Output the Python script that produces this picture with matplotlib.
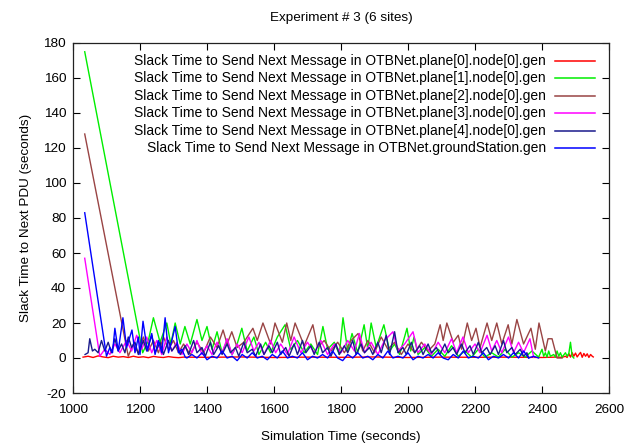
import matplotlib
matplotlib.use('Agg')
import matplotlib.pyplot as plt

plt.rcParams['font.family'] = ['Liberation Sans', 'DejaVu Sans']
plt.rcParams['axes.unicode_minus'] = False

# ---------------- data ----------------
title = "Experiment # 3 (6 sites)"
xlabel = "Simulation Time (seconds)"
ylabel = "Slack Time to Next PDU (seconds)"

labels = [
    "Slack Time to Send Next Message in OTBNet.plane[0].node[0].gen",
    "Slack Time to Send Next Message in OTBNet.plane[1].node[0].gen",
    "Slack Time to Send Next Message in OTBNet.plane[2].node[0].gen",
    "Slack Time to Send Next Message in OTBNet.plane[3].node[0].gen",
    "Slack Time to Send Next Message in OTBNet.plane[4].node[0].gen",
    "Slack Time to Send Next Message in OTBNet.groundStation.gen",
]

xticks = [1000, 1200, 1400, 1600, 1800, 2000, 2200, 2400, 2600]
yticks = [-20, 0, 20, 40, 60, 80, 100, 120, 140, 160, 180]

plane0 = [(1030, 0.5), (1045, 1.0), (1060, 0.3), (1075, 1.2), (1090, 0.6), (1105, 0.2),
          (1120, 1.0), (1135, 0.5), (1150, 0.8), (1165, 0.3), (1180, 1.0), (1195, 0.4),
          (1210, 0.7), (1225, 0.2), (1240, 0.9), (1255, 0.5), (1270, 0.3), (1285, 0.8),
          (1300, 0.4), (1315, 0.2), (1330, 0.5), (1400, 0.4), (1500, 0.6), (1600, 0.3),
          (1700, 0.5), (1800, 0.4), (1900, 0.6), (2000, 0.3), (2100, 0.5), (2200, 0.4),
          (2300, 0.5), (2400, 0.3), (2440, 0.5), (2460, 0.4), (2470, 1.0), (2475, 0.3),
          (2480, 2.5), (2485, 0.5), (2490, 3.0), (2495, 1.0), (2500, 2.8), (2505, 0.6),
          (2510, 2.0), (2515, 3.2), (2520, 0.4), (2525, 2.6), (2530, 1.0), (2535, 2.4),
          (2540, 0.3), (2545, 2.0), (2550, 1.0), (2553, 0.6)]

plane1 = [(1035, 175), (1208, 3), (1225, 10), (1240, 23), (1260, 9), (1280, 20), (1292, 8),
          (1305, 20), (1320, 8), (1334, 18), (1350, 8), (1370, 22), (1385, 10), (1400, 18),
          (1415, 5), (1430, 15), (1445, 3), (1460, 10), (1475, 2), (1490, 8), (1504, 17),
          (1520, 4), (1540, 12), (1555, 2), (1575, 9), (1590, 3), (1610, 12), (1633, 19),
          (1650, 5), (1670, 10), (1690, 3), (1710, 8), (1730, 2), (1746, 18), (1760, 5),
          (1780, 9), (1795, 2), (1806, 23), (1820, 4), (1833, 14), (1850, 3), (1869, 19),
          (1880, 5), (1890, 20), (1905, 6), (1928, 19), (1945, 4), (1960, 8), (1975, 2),
          (1997, 17), (2008, 4), (2018, 12), (2030, 2), (2050, 6), (2070, 1), (2090, 5),
          (2110, 1), (2130, 7), (2150, 1), (2170, 4), (2190, 0.5), (2210, 5), (2230, 0.5),
          (2250, 3), (2270, 0.5), (2290, 5), (2310, 0.5), (2330, 3), (2350, 0.5), (2370, 4),
          (2390, 0.5), (2400, 5), (2405, 1), (2410, 3), (2415, 0.5), (2420, 4), (2425, 1),
          (2435, 2), (2440, 0.5), (2445, 4), (2450, 1), (2455, 3), (2460, 0.5), (2470, 3),
          (2475, 1), (2480, 2.5), (2485, 9), (2490, 1), (2495, 0)]

plane2 = [(1035, 128), (1165, 1), (1180, 8), (1195, 3), (1210, 12), (1225, 4), (1240, 10),
          (1255, 3), (1270, 12), (1285, 5), (1300, 10), (1315, 3), (1330, 8), (1350, 2),
          (1370, 9), (1390, 3), (1410, 12), (1430, 6), (1448, 16), (1460, 8), (1474, 15),
          (1490, 6), (1510, 9), (1537, 17), (1550, 10), (1567, 20), (1590, 8), (1603, 20),
          (1625, 9), (1638, 20), (1650, 10), (1663, 20), (1690, 7), (1716, 19), (1730, 6),
          (1750, 10), (1770, 4), (1790, 9), (1810, 3), (1830, 10), (1851, 14), (1865, 4),
          (1880, 10), (1900, 3), (1920, 12), (1940, 5), (1960, 9), (1980, 2), (2000, 8),
          (2020, 3), (2040, 9), (2060, 4), (2080, 8), (2096, 19), (2105, 10), (2116, 20),
          (2135, 9), (2150, 13), (2160, 5), (2177, 20), (2190, 10), (2203, 17), (2215, 6),
          (2236, 20), (2250, 10), (2265, 20), (2280, 8), (2299, 19), (2310, 8), (2325, 22),
          (2345, 8), (2367, 17), (2380, 5), (2391, 20), (2410, 4), (2418, 11), (2430, 11),
          (2445, 0), (2460, 0)]

plane3 = [(1035, 57), (1080, 1), (1095, 5), (1110, 2), (1125, 8), (1140, 3), (1160, 10),
          (1175, 4), (1190, 13), (1205, 5), (1220, 12), (1235, 3), (1250, 10), (1265, 2),
          (1280, 12), (1295, 4), (1310, 9), (1325, 2), (1340, 8), (1355, 3), (1370, 10),
          (1385, 2), (1400, 7), (1415, 2), (1430, 9), (1445, 3), (1460, 11), (1475, 2),
          (1490, 8), (1505, 3), (1525, 12), (1540, 4), (1555, 9), (1570, 2), (1590, 10),
          (1605, 3), (1620, 8), (1640, 2), (1660, 12), (1680, 3), (1700, 9), (1720, 3),
          (1740, 10), (1760, 2), (1780, 8), (1800, 3), (1820, 10), (1840, 4), (1855, 14),
          (1870, 3), (1890, 9), (1910, 2), (1930, 10), (1955, 15), (1970, 4), (1990, 8),
          (2015, 15), (2030, 3), (2050, 8), (2070, 2), (2090, 9), (2110, 3), (2130, 11),
          (2145, 3), (2164, 12), (2180, 3), (2200, 8), (2215, 3), (2236, 13), (2250, 4),
          (2265, 10), (2280, 3), (2300, 12), (2315, 3), (2330, 9), (2345, 3), (2364, 11),
          (2375, 0.5)]

plane4 = [(1036, 2), (1045, 3), (1050, 11), (1058, 4), (1065, 5), (1075, 3), (1085, 10),
          (1095, 4), (1105, 9), (1115, 3), (1125, 11), (1135, 4), (1145, 8), (1155, 3),
          (1165, 12), (1175, 6), (1185, 9), (1195, 2), (1210, 10), (1220, 4), (1235, 13),
          (1245, 3), (1260, 9), (1270, 2), (1285, 10), (1295, 4), (1310, 8), (1320, 2),
          (1335, 7), (1345, 2), (1360, 10), (1370, 3), (1385, 6), (1395, 1), (1410, 9),
          (1420, 2), (1435, 7), (1445, 2), (1460, 8), (1470, 3), (1485, 6), (1495, 1),
          (1510, 9), (1520, 3), (1535, 5), (1545, 1), (1560, 8), (1570, 2), (1585, 7),
          (1595, 3), (1610, 9), (1620, 2), (1635, 6), (1645, 1), (1660, 8), (1670, 2),
          (1685, 10), (1695, 3), (1710, 7), (1720, 2), (1735, 9), (1745, 3), (1760, 6),
          (1770, 1), (1785, 8), (1795, 2), (1810, 7), (1820, 3), (1835, 10), (1845, 2),
          (1860, 8), (1870, 3), (1885, 6), (1895, 2), (1910, 9), (1920, 3), (1935, 13),
          (1945, 2), (1960, 15), (1970, 3), (1985, 6), (1995, 2), (2010, 9), (2020, 3),
          (2035, 7), (2045, 2), (2060, 8), (2070, 3), (2085, 6), (2095, 2), (2110, 8),
          (2120, 3), (2135, 6), (2145, 2), (2160, 8), (2170, 3), (2185, 7), (2195, 2),
          (2210, 9), (2220, 3), (2235, 6), (2245, 2), (2260, 7), (2270, 2), (2285, 10),
          (2295, 3), (2310, 6), (2320, 2), (2335, 5), (2345, 1), (2355, 3), (2360, 0)]

ground = [(1035, 83), (1100, 1), (1110, 6), (1118, 3), (1125, 17), (1135, 4), (1149, 23),
          (1160, 6), (1176, 16), (1185, 3), (1195, 12), (1200, 2), (1209, 21), (1222, 4),
          (1235, 14), (1245, 2), (1255, 10), (1265, 3), (1275, 23), (1285, 3), (1295, 10),
          (1305, 18), (1315, 3), (1325, 5), (1335, 0.5), (1340, 0), (1355, 2), (1370, 0),
          (1385, 3), (1400, -1), (1415, 1), (1430, 0), (1445, 4), (1460, 0), (1475, 1),
          (1490, -1.5), (1505, 2), (1520, 0), (1535, 3), (1550, 0), (1565, 1), (1580, -1),
          (1595, 2), (1610, 0), (1625, 4), (1640, 0), (1655, 1), (1670, 0), (1685, 3),
          (1700, -1), (1715, 1), (1730, 0), (1745, 2), (1760, 0), (1775, 4), (1790, 0),
          (1805, -1.5), (1820, 2), (1835, 0), (1850, 3), (1865, 0), (1880, 1), (1895, -1),
          (1910, 2), (1925, 0), (1940, 4), (1955, 0), (1970, 1), (1985, 0), (2000, 3),
          (2015, -1), (2030, 1), (2045, 0), (2060, 2), (2075, 0), (2090, 3), (2105, 0),
          (2120, -1), (2135, 2), (2150, 0), (2165, 4), (2180, 0), (2195, 1), (2210, 0),
          (2225, 3), (2240, -1), (2255, 1), (2270, 0), (2285, 2), (2300, 0), (2315, 3),
          (2330, 0), (2345, 4), (2360, 0), (2375, 1), (2390, 0)]

series = [plane0, plane1, plane2, plane3, plane4, ground]
colors = ['#ff0000', '#00ee00', '#994444', '#ff00ff', '#1a1a8c', '#0000ff']

# ---------------- figure ----------------
fig = plt.figure(figsize=(6.36, 4.44), dpi=100)
ax = fig.add_axes([73 / 636, 1 - 393 / 444, 536 / 636, 350 / 444])

for data, c in zip(series, colors):
    ts = [p[0] for p in data]
    vs = [p[1] for p in data]
    ax.plot(ts, vs, color=c, lw=1.0)

ax.set_xlim(1000, 2600)
ax.set_ylim(-20, 180)
ax.set_xticks(xticks)
ax.set_yticks(yticks)
ax.tick_params(direction='in', length=5, width=0.8, top=True, right=True,
               labelsize=9.7, colors='black')
ax.tick_params(axis='x', pad=8)
ax.tick_params(axis='y', pad=5)
for s in ax.spines.values():
    s.set_linewidth(0.9)
    s.set_color('#222222')

ax.set_title(title, fontsize=9.7, pad=15.5)
ax.set_xlabel(xlabel, fontsize=9.7, labelpad=11)
ax.set_ylabel(ylabel, fontsize=9.7, labelpad=8)

# gnuplot-style key: right-aligned text followed by a line sample
tx = 0.8825
lx0, lx1 = 0.899, 0.974
y0, dy = 0.9486, 0.0497
for i, (lab, c) in enumerate(zip(labels, colors)):
    y = y0 - i * dy
    ax.text(tx, y, lab, transform=ax.transAxes, ha='right', va='center', fontsize=10)
    ax.plot([lx0, lx1], [y, y], transform=ax.transAxes, color=c, lw=1.1)

fig.savefig('out.png', dpi=100)
